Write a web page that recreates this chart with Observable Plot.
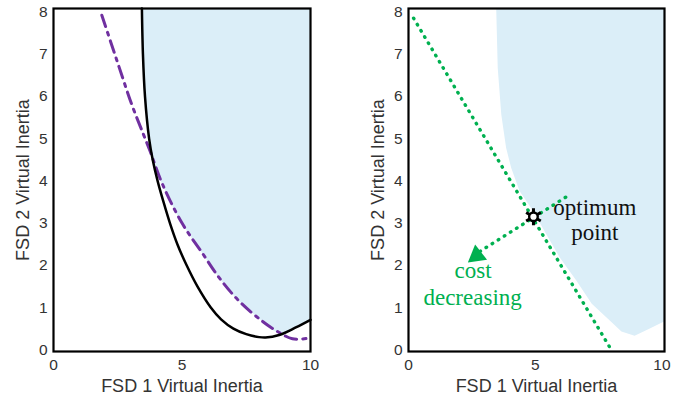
<!DOCTYPE html>
<html>
<head>
<meta charset="utf-8">
<script src="https://cdn.jsdelivr.net/npm/d3@7"></script>
<script src="https://cdn.jsdelivr.net/npm/@observablehq/plot@0.6"></script>
<style>
  html, body { margin: 0; padding: 0; background: #fff; }
  #wrap { display: flex; width: 691px; height: 400px; }
</style>
</head>
<body>
<div id="wrap"></div>
<script>
// ---------- tick labels & axis titles ----------
const xTicks = [0, 5, 10];
const yTicks = [0, 1, 2, 3, 4, 5, 6, 7, 8];
const xTitle = "FSD 1 Virtual Inertia";
const yTitle = "FSD 2 Virtual Inertia";

// ---------- left panel ----------
const blackX = [3.44, 3.48, 3.56, 3.72, 3.86, 4.05, 4.28, 4.53, 4.82, 5.18, 5.6, 6.12, 6.52, 7.0, 7.5, 8.0, 8.25, 8.78, 9.43, 10.0];
const blackY = [8.08, 7.0, 6.0, 5.0, 4.5, 4.0, 3.5, 3.0, 2.5, 2.0, 1.5, 1.0, 0.72, 0.5, 0.37, 0.3, 0.29, 0.35, 0.53, 0.71];

const purpleX = [1.88, 2.45, 3.05, 3.5, 3.76, 4.22, 5.0, 5.78, 6.43, 7.21, 8.12, 8.78, 9.3, 10.0];
const purpleY = [7.92, 6.88, 5.8, 5.1, 4.7, 3.95, 3.0, 2.3, 1.72, 1.16, 0.68, 0.41, 0.26, 0.28];

const feasX = [3.44, 3.48, 3.56, 3.72, 3.86, 4.22, 5.0, 5.78, 6.43, 7.21, 8.12, 8.85, 9.43, 10.0];
const feasY = [8.08, 7.0, 6.0, 5.0, 4.52, 3.95, 3.0, 2.3, 1.72, 1.16, 0.68, 0.37, 0.53, 0.71];

// ---------- right panel ----------
const feas2X = [3.48, 3.54, 3.68, 3.87, 4.07, 4.4, 4.93, 5.45, 5.98, 6.64, 7.25, 7.96, 8.42, 8.94, 9.54, 10.1];
const feas2Y = [8.08, 6.66, 5.56, 4.77, 4.3, 3.75, 3.28, 2.73, 2.18, 1.63, 1.08, 0.68, 0.42, 0.32, 0.49, 0.66];

const constraintX = [0.2, 7.95];
const constraintY = [7.85, 0.05];

const costX = [2.82, 6.25];
const costY = [2.33, 3.63];

const arrowX = [2.69];
const arrowY = [2.23];

const optX = [4.93];
const optY = [3.15];

const blackLabels = ["optimum", "point"];
const blackLabelX = [7.35, 7.35];
const blackLabelY = [3.36, 2.78];

const greenLabels = ["cost", "decreasing"];
const greenLabelX = [2.55, 2.53];
const greenLabelY = [1.87, 1.23];

// ---------- helpers ----------
const pts = (xs, ys) => xs.map((x, i) => ({x, y: ys[i]}));
const GREEN = "#00B050";
const BLUE = "#DBEEF8";
const PURPLE = "#7030A0";
const TICK = "#333";
const YTOP = 8.08;
const SERIF = "'Liberation Serif', 'Times New Roman', serif";

function axes() {
  return [
    Plot.axisX({ticks: xTicks, tickSize: 0, tickPadding: 7, fontSize: 15.5, fill: TICK, label: null}),
    Plot.axisY({ticks: yTicks, tickSize: 0, tickPadding: 6, fontSize: 15.5, fill: TICK, label: null}),
    Plot.text([xTitle], {text: d => d, frameAnchor: "bottom", textAnchor: "middle", dy: 40, fontSize: 18, fill: TICK}),
    Plot.text([yTitle], {text: d => d, frameAnchor: "left", textAnchor: "middle", lineAnchor: "middle", dx: -30, rotate: -90, fontSize: 18, fill: TICK})
  ];
}

const common = {
  height: 400,
  marginTop: 8,
  marginBottom: 49,
  y: {domain: [-0.04, YTOP]},
  style: {fontFamily: "'Liberation Sans', Arial, sans-serif", background: "#fff", overflow: "visible"}
};

const left = Plot.plot({
  ...common,
  width: 345,
  marginLeft: 53,
  marginRight: 35,
  x: {domain: [0, 10]},
  marks: [
    Plot.areaY(pts(feasX, feasY), {x: "x", y1: "y", y2: YTOP, fill: BLUE, curve: "catmull-rom"}),
    Plot.line(pts(purpleX, purpleY), {x: "x", y: "y", stroke: PURPLE, strokeWidth: 3, strokeDasharray: "12,6,3,6", curve: "catmull-rom"}),
    Plot.line(pts(blackX, blackY), {x: "x", y: "y", stroke: "black", strokeWidth: 2.5, curve: "catmull-rom"}),
    Plot.frame({stroke: "black", strokeWidth: 2.2}),
    ...axes()
  ]
});

const right = Plot.plot({
  ...common,
  width: 346,
  marginLeft: 63,
  marginRight: 27,
  x: {domain: [0, 10.1]},
  marks: [
    Plot.areaY(pts(feas2X, feas2Y), {x: "x", y1: "y", y2: YTOP, fill: BLUE}),
    Plot.line(pts(constraintX, constraintY), {x: "x", y: "y", stroke: GREEN, strokeWidth: 3.4, strokeDasharray: "0.6,6.6", strokeLinecap: "round"}),
    Plot.line(pts(costX, costY), {x: "x", y: "y", stroke: GREEN, strokeWidth: 3.4, strokeDasharray: "0.6,6.6", strokeLinecap: "round"}),
    Plot.dot(pts(arrowX, arrowY), {x: "x", y: "y", symbol: "triangle", r: 7.2, fill: GREEN, rotate: -8}),
    Plot.dot(pts(optX, optY), {x: "x", y: "y", symbol: "asterisk", r: 8, stroke: "black", strokeWidth: 3}),
    Plot.dot(pts(optX, optY), {x: "x", y: "y", r: 4.3, fill: "white", stroke: "black", strokeWidth: 2.4}),
    Plot.text(blackLabels.map((t, i) => ({t, x: blackLabelX[i], y: blackLabelY[i]})),
      {x: "x", y: "y", text: "t", fontFamily: SERIF, fontSize: 23, fill: "#111"}),
    Plot.text(greenLabels.map((t, i) => ({t, x: greenLabelX[i], y: greenLabelY[i]})),
      {x: "x", y: "y", text: "t", fontFamily: SERIF, fontSize: 23, fill: GREEN}),
    Plot.frame({stroke: "black", strokeWidth: 2.2}),
    ...axes()
  ]
});

document.getElementById("wrap").append(left, right);
</script>
</body>
</html>
